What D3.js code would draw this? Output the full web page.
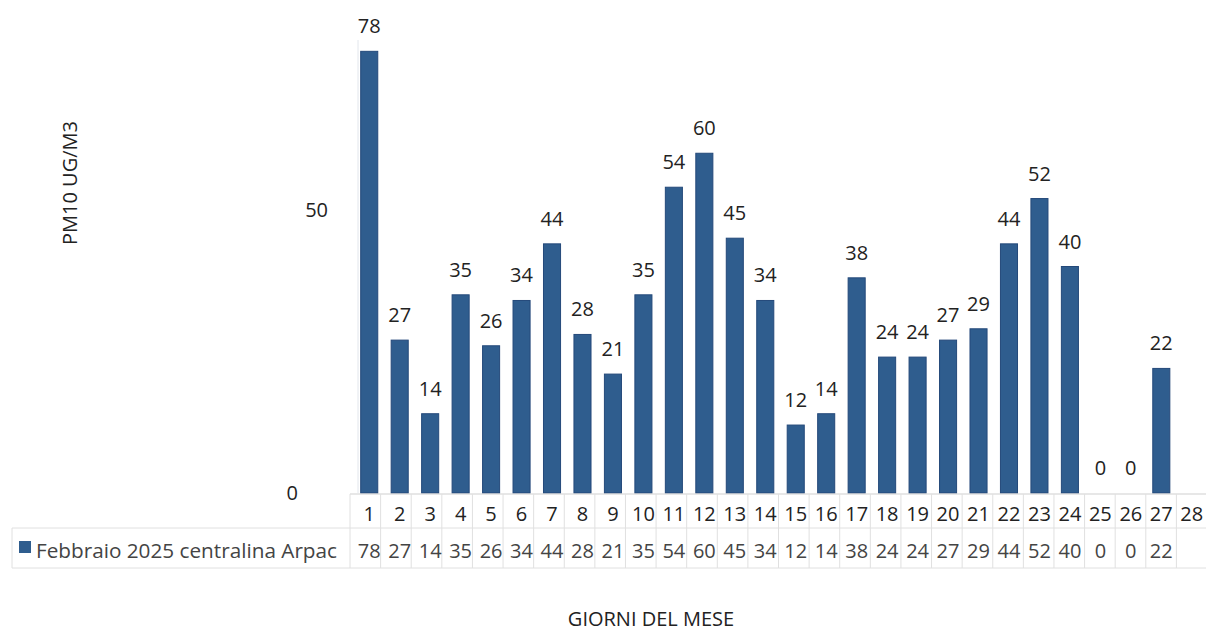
<!DOCTYPE html>
<html>
<head>
<meta charset="utf-8">
<script src="https://cdn.jsdelivr.net/npm/d3@7"></script>
<style>
body { margin: 0; background: #fff; }
text { font-family: "Open Sans", "Noto Sans", sans-serif; fill: #222; }
</style>
</head>
<body>
<svg id="chart" width="1206" height="631"></svg>
<script>
const days = d3.range(1, 29).map(String);
const pm10 = [78, 27, 14, 35, 26, 34, 44, 28, 21, 35, 54, 60, 45, 34, 12, 14, 38, 24, 24, 27, 29, 44, 52, 40, 0, 0, 22, null];
const y_ticks = [0, 50];
const series_name = "Febbraio 2025 centralina Arpac";
const y_title = "PM10 UG/M3";
const x_title = "GIORNI DEL MESE";

const svg = d3.select("#chart");
const base_y = 493;
const fs = "20px";
const x = d3.scaleBand().domain(days).range([354, 1207]).paddingInner(0.44).paddingOuter(0.22);
const y = d3.scaleLinear().domain([0, 80]).range([base_y, 40]);
const cell = d3.scaleBand().domain(days).range([350, 1207]);
const grid = "#e0e0e0";

// faint value axis line
svg.append("line")
	.attr("x1", 358).attr("x2", 358).attr("y1", 40).attr("y2", base_y)
	.style("stroke", "#e2e6ec");

// y axis ticks
const y_axis = svg.append("g")
	.attr("transform", "translate(328,0)")
	.call(d3.axisLeft(y).tickValues(y_ticks).tickSize(0).tickPadding(0));
y_axis.select(".domain").remove();
y_axis.selectAll("text")
	.style("font-size", fs).style("fill", "#222")
	.attr("font-family", "Open Sans")
	.attr("x", d => d == 0 ? -30 : 0);

// bars
const data = days.map((d, i) => ({day: d, v: pm10[i]})).filter(d => d.v !== null);
svg.selectAll("rect.bar").data(data).enter()
	.append("rect").attr("class", "bar")
	.style("fill", "#2f5d8e").style("stroke", "#24497a").style("stroke-width", 1)
	.attr("x", d => x(d.day))
	.attr("width", x.bandwidth())
	.attr("y", d => y(d.v))
	.attr("height", d => base_y - y(d.v));

svg.selectAll("text.val").data(data).enter()
	.append("text").attr("class", "val")
	.attr("x", d => x(d.day) + x.bandwidth() / 2)
	.attr("y", d => y(d.v) - 18)
	.attr("text-anchor", "middle")
	.style("font-size", fs)
	.text(d => d.v);

// data table
const tbl = svg.append("g").style("stroke", grid).style("fill", "none");
tbl.append("line").attr("x1", 350).attr("x2", 1206).attr("y1", base_y + 1).attr("y2", base_y + 1).style("stroke", "#cfcfcf");
tbl.append("line").attr("x1", 12).attr("x2", 1206).attr("y1", 528).attr("y2", 528);
tbl.append("line").attr("x1", 12).attr("x2", 1206).attr("y1", 568).attr("y2", 568);
tbl.append("line").attr("x1", 12).attr("x2", 12).attr("y1", 528).attr("y2", 568);
tbl.selectAll("line.col").data(days).enter()
	.append("line").attr("class", "col")
	.attr("x1", d => cell(d)).attr("x2", d => cell(d))
	.attr("y1", base_y + 1).attr("y2", 568);

svg.selectAll("text.head").data(days).enter()
	.append("text").attr("class", "head")
	.attr("x", d => x(d) + x.bandwidth() / 2)
	.attr("y", 521)
	.attr("text-anchor", "middle")
	.style("font-size", fs)
	.text(d => d);

svg.selectAll("text.cellv").data(data).enter()
	.append("text").attr("class", "cellv")
	.attr("x", d => x(d.day) + x.bandwidth() / 2)
	.attr("y", 558)
	.attr("text-anchor", "middle")
	.style("font-size", fs)
	.style("fill", "#444")
	.text(d => d.v);

svg.append("rect").attr("x", 19).attr("y", 541).attr("width", 12).attr("height", 12)
	.style("fill", "#2f5d8e");
svg.append("text").attr("x", 36).attr("y", 558)
	.style("font-size", fs).style("fill", "#444")
	.attr("textLength", 301).attr("lengthAdjust", "spacingAndGlyphs")
	.text(series_name);

// titles
svg.append("text")
	.attr("transform", "translate(77,183) rotate(-90)")
	.attr("text-anchor", "middle")
	.style("font-size", "20px")
	.text(y_title);
svg.append("text")
	.attr("x", 651).attr("y", 626)
	.attr("text-anchor", "middle")
	.style("font-size", "20px")
	.text(x_title);
</script>
</body>
</html>
